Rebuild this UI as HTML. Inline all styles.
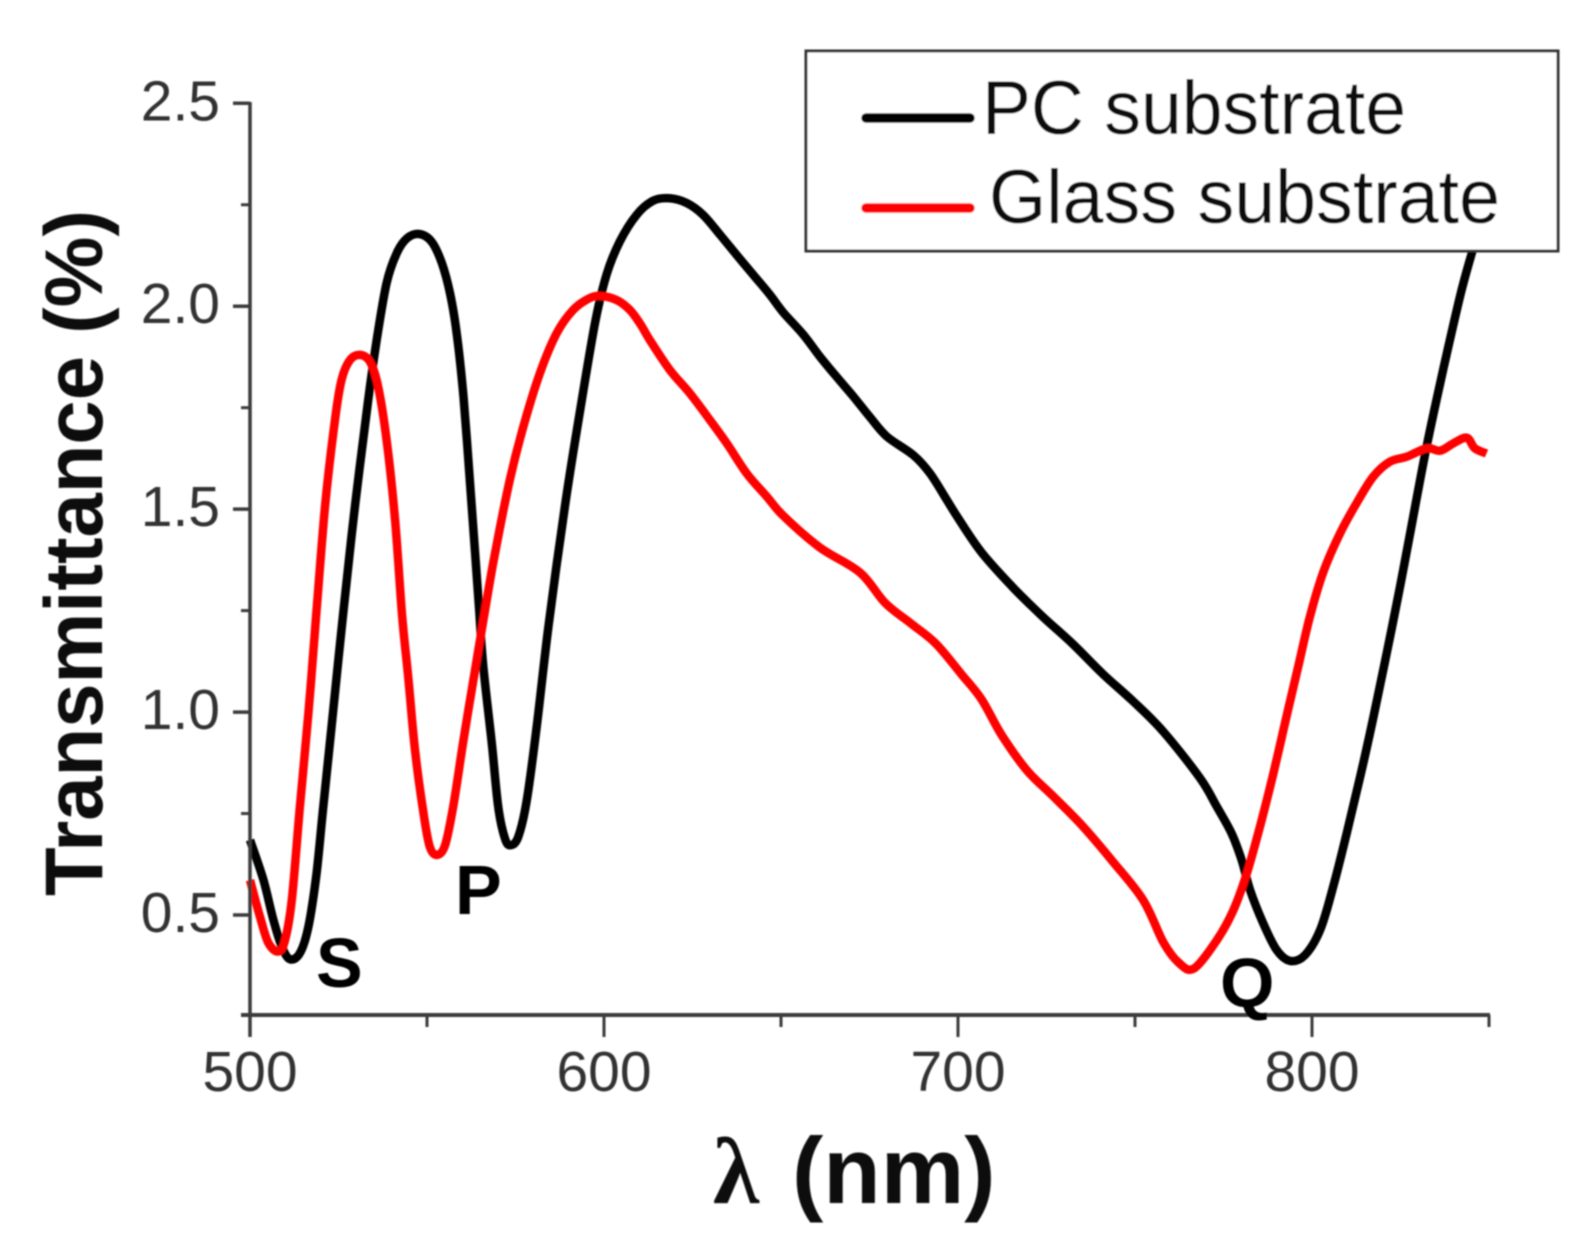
<!DOCTYPE html>
<html>
<head>
<meta charset="utf-8">
<title>Transmittance vs wavelength</title>
<style>
html,body{margin:0;padding:0;background:#fff;}
svg{display:block;}
text{font-family:"Liberation Sans",sans-serif;}
</style>
</head>
<body>
<svg id="chart" xmlns="http://www.w3.org/2000/svg" width="1585" height="1251" viewBox="0 0 1585 1251">
  <defs><filter id="soft" x="-5%" y="-5%" width="110%" height="110%"><feGaussianBlur stdDeviation="0.8"/></filter></defs>
  <g id="root" filter="url(#soft)">
    <g id="ticks"></g>
    <g id="series"></g>
    <line x1="250" y1="102" x2="250" y2="1037" stroke="#3a3a3a" stroke-width="3.5"/>
    <line x1="241" y1="1015" x2="1490" y2="1015" stroke="#3a3a3a" stroke-width="4"/>
    <text transform="translate(102,896) rotate(-90)" font-size="82" font-weight="bold" fill="#111" textLength="686" lengthAdjust="spacingAndGlyphs">Transmittance (%)</text>
    <text y="1203" font-size="94" font-weight="bold" fill="#111"><tspan x="713" style="font-family:'Liberation Serif','DejaVu Serif',serif">λ </tspan><tspan x="792">(nm)</tspan></text>
    <text x="316" y="987" font-size="70" font-weight="bold" fill="#000">S</text>
    <text x="455" y="914" font-size="70" font-weight="bold" fill="#000">P</text>
    <text x="1220" y="1007" font-size="70" font-weight="bold" fill="#000">Q</text>
    <g>
      <rect x="806" y="51" width="752" height="200" fill="#fff" stroke="#333" stroke-width="3"/>
      <line x1="866" y1="118" x2="970" y2="118" stroke="#000" stroke-width="9.5" stroke-linecap="round"/>
      <text x="982" y="134" font-size="76" fill="#111" textLength="424" lengthAdjust="spacingAndGlyphs">PC substrate</text>
      <line x1="866" y1="208" x2="970" y2="208" stroke="#f00" stroke-width="9.5" stroke-linecap="round"/>
      <text x="989" y="223" font-size="76" fill="#111" textLength="511" lengthAdjust="spacingAndGlyphs">Glass substrate</text>
    </g>
  </g>
</svg>
<script>
const xTickLabels = [500, 600, 700, 800];
const xMinorTicks = [550, 650, 750, 850];
const yTickLabels = ["0.5", "1.0", "1.5", "2.0", "2.5"];
const yMinorTicks = [0.75, 1.25, 1.75, 2.25];

const pcWavelength = [500,503.8,506.6,509,511.3,514.1,516.5,518.8,520.7,523.1,526.4,529.7,533.4,535.8,538.6,541.4,544.3,547.8,551.3,554.2,556.5,558.4,560.3,562.1,563.6,564.8,565.9,568.3,570.1,572,573.6,575.8,578.2,581,584.3,589,593.2,597.5,600.8,604.5,609.2,613.9,618.6,623.4,628,632.8,637.5,642.2,646.9,650.6,656.3,661,665.7,670.4,675.1,679.9,687.4,692.1,696.8,700.1,706.6,715.1,723.7,732.3,740.9,749.4,758,768.4,773.1,777.3,780.1,782.5,786.2,790,793.8,798,802.3,806,809.8,813.6,817.3,821.1,824.9,827.7,832.4,837.1,841.8,845.1,847.5];
const pcTransmittance = [0.685,0.586,0.488,0.422,0.391,0.406,0.471,0.603,0.767,0.97,1.25,1.51,1.769,1.917,2.057,2.13,2.167,2.178,2.159,2.106,2.032,1.933,1.777,1.572,1.392,1.244,1.112,0.923,0.767,0.689,0.672,0.693,0.783,0.964,1.21,1.51,1.74,1.96,2.08,2.16,2.225,2.26,2.266,2.254,2.225,2.176,2.126,2.077,2.028,1.985,1.93,1.876,1.826,1.778,1.727,1.679,1.633,1.588,1.523,1.477,1.394,1.311,1.237,1.169,1.094,1.027,0.952,0.837,0.767,0.701,0.636,0.562,0.48,0.414,0.387,0.401,0.463,0.57,0.701,0.84,0.985,1.145,1.31,1.44,1.655,1.845,2.024,2.13,2.2];

const glassWavelength = [500,502.8,505.2,508,509.9,511.8,514.1,516.5,518.6,521.2,524,525.9,528.2,531.1,533.9,536.2,538.6,541,543,544.7,546.6,549,550.8,552.9,555.1,557.4,560.3,563.1,566.4,569.2,573.4,577.2,581.9,586.6,591.3,596,599.3,603.6,607.3,610.2,613,618.6,624.3,629.9,634.7,640.3,646,650.6,660.9,672.3,679.4,686.6,693.7,700.9,706.6,712.3,719.4,726.6,735.1,743.7,752.3,758,762.3,766.6,773.1,777.8,781.6,785.3,789.1,792.8,796.1,799.4,803.2,807.9,812.6,817.3,822,826.7,832.4,836.2,839.9,843.7,846,849.3];
const glassTransmittance = [0.586,0.496,0.431,0.41,0.438,0.537,0.767,0.997,1.227,1.506,1.72,1.82,1.867,1.88,1.863,1.802,1.67,1.473,1.235,1.087,0.907,0.751,0.668,0.648,0.672,0.767,0.931,1.079,1.252,1.391,1.572,1.703,1.835,1.933,1.991,2.02,2.025,2.015,1.991,1.957,1.916,1.843,1.785,1.72,1.662,1.588,1.531,1.484,1.406,1.344,1.269,1.219,1.169,1.094,1.032,0.944,0.857,0.795,0.72,0.632,0.537,0.433,0.383,0.368,0.438,0.512,0.603,0.718,0.849,0.989,1.112,1.235,1.345,1.44,1.515,1.58,1.617,1.629,1.65,1.644,1.662,1.676,1.65,1.637];

const NS = "http://www.w3.org/2000/svg";
function xScale(v) { return 250 + (v - 500) * 3.54; }
function yScale(v) { return 915 - (v - 0.5) * 405.85; }

function smoothPath(xs, ys) {
  const p = xs.map(function (x, i) { return [xScale(x), yScale(ys[i])]; });
  let d = "M" + p[0][0].toFixed(1) + "," + p[0][1].toFixed(1);
  for (let i = 0; i < p.length - 1; i++) {
    const a = p[Math.max(i - 1, 0)], b = p[i], c = p[i + 1], e = p[Math.min(i + 2, p.length - 1)];
    const c1x = b[0] + (c[0] - a[0]) / 6, c1y = b[1] + (c[1] - a[1]) / 6;
    const c2x = c[0] - (e[0] - b[0]) / 6, c2y = c[1] - (e[1] - b[1]) / 6;
    d += "C" + c1x.toFixed(1) + "," + c1y.toFixed(1) + " " + c2x.toFixed(1) + "," + c2y.toFixed(1) + " " + c[0].toFixed(1) + "," + c[1].toFixed(1);
  }
  return d;
}

function makeLine(x1, y1, x2, y2, w) {
  const l = document.createElementNS(NS, "line");
  l.setAttribute("x1", x1);
  l.setAttribute("y1", y1);
  l.setAttribute("x2", x2);
  l.setAttribute("y2", y2);
  l.setAttribute("stroke", "#3a3a3a");
  l.setAttribute("stroke-width", w);
  return l;
}
function makeText(x, y, s, anchor) {
  const t = document.createElementNS(NS, "text");
  t.setAttribute("x", x);
  t.setAttribute("y", y);
  t.setAttribute("font-size", "57");
  t.setAttribute("fill", "#333");
  t.setAttribute("text-anchor", anchor);
  t.textContent = s;
  return t;
}

const ticks = document.getElementById("ticks");
xTickLabels.forEach(function (v) {
  const l = makeLine(xScale(v), 1015, xScale(v), 1037, 3);
  
  
  ticks.appendChild(l);
  const t = makeText(xScale(v), 1091, String(v), "middle");
  
  
  ticks.appendChild(t);
});
xMinorTicks.forEach(function (v) {
  const l = makeLine(xScale(v), 1015, xScale(v), 1027, 3);
  
  
  ticks.appendChild(l);
});
yTickLabels.forEach(function (s) {
  const v = parseFloat(s);
  const l = makeLine(233, yScale(v), 250, yScale(v), 3.5);
  
  
  ticks.appendChild(l);
  const t = makeText(220, yScale(v) + 17, s, "end");
  
  
  ticks.appendChild(t);
});
yMinorTicks.forEach(function (v) {
  const l = makeLine(241, yScale(v), 250, yScale(v), 3);
  
  
  ticks.appendChild(l);
});

const seriesGroup = document.getElementById("series");
const pcLine = document.createElementNS(NS, "path");


pcLine.setAttribute("d", smoothPath(pcWavelength, pcTransmittance));
pcLine.setAttribute("fill", "none");
pcLine.setAttribute("stroke", "#000");
pcLine.setAttribute("stroke-width", "8.5");
pcLine.setAttribute("stroke-linejoin", "round");
seriesGroup.appendChild(pcLine);

const glassLine = document.createElementNS(NS, "path");


glassLine.setAttribute("d", smoothPath(glassWavelength, glassTransmittance));
glassLine.setAttribute("fill", "none");
glassLine.setAttribute("stroke", "#f00");
glassLine.setAttribute("stroke-width", "8.5");
glassLine.setAttribute("stroke-linejoin", "round");
seriesGroup.appendChild(glassLine);
</script>
</body>
</html>
